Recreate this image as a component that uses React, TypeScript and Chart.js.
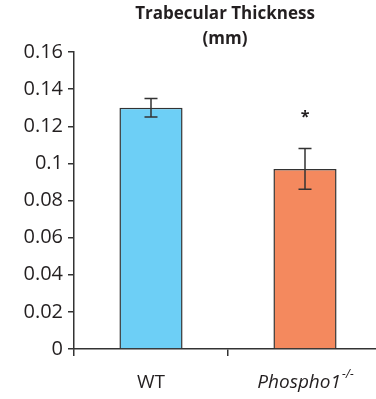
import React, { useEffect, useRef } from "react";
import { Chart, registerables } from "chart.js";

Chart.register(...registerables);

const categories = ["WT", "Phospho1"];
const superscripts = ["", "-/-"];
const italicLabels = [false, true];
const values = [0.13, 0.097];
const errors = [0.005, 0.011];
const significance = ["", "*"];
const barColors = ["#6dcff6", "#f4895e"];
const titleLines = ["Trabecular Thickness", "(mm)"];
const yMin = 0;
const yMax = 0.16;
const yStep = 0.02;

const FONT = "'Open Sans', 'DejaVu Sans', sans-serif";
const INK = "#231f20";

const overlayPlugin = {
  id: "overlay",
  afterDatasetsDraw(chart: any) {
    const { ctx, chartArea, scales } = chart;
    const xs = scales.x;
    const ys = scales.y;
    ctx.save();
    // error bars
    ctx.strokeStyle = "#333";
    ctx.lineWidth = 1.5;
    values.forEach((v, i) => {
      const x = xs.getPixelForValue(i);
      const yTop = ys.getPixelForValue(v + errors[i]);
      const yBot = ys.getPixelForValue(v - errors[i]);
      const cap = 6.5;
      ctx.beginPath();
      ctx.moveTo(x, yTop);
      ctx.lineTo(x, yBot);
      ctx.moveTo(x - cap, yTop);
      ctx.lineTo(x + cap, yTop);
      ctx.moveTo(x - cap, yBot);
      ctx.lineTo(x + cap, yBot);
      ctx.stroke();
      if (significance[i]) {
        ctx.fillStyle = INK;
        ctx.font = `bold 16px ${FONT}`;
        ctx.textAlign = "center";
        ctx.textBaseline = "alphabetic";
        ctx.fillText(significance[i], x, yTop - 27);
      }
    });
    // x labels
    const labelY = 383;
    categories.forEach((c, i) => {
      const x = xs.getPixelForValue(i);
      const mainFont = `${italicLabels[i] ? "italic " : ""}19px ${FONT}`;
      const supFont = `${italicLabels[i] ? "italic " : ""}12px ${FONT}`;
      ctx.font = mainFont;
      const w1 = ctx.measureText(c).width;
      ctx.font = supFont;
      const w2 = superscripts[i] ? ctx.measureText(superscripts[i]).width : 0;
      const start = x - (w1 + w2) / 2;
      ctx.fillStyle = INK;
      ctx.textAlign = "left";
      ctx.textBaseline = "middle";
      ctx.font = mainFont;
      ctx.fillText(c, start, labelY);
      if (superscripts[i]) {
        ctx.font = supFont;
        ctx.fillText(superscripts[i], start + w1 + 1, labelY - 8);
      }
    });
    // title
    const cx = (chartArea.left + chartArea.right) / 2 - 3;
    ctx.font = `bold 17px ${FONT}`;
    ctx.fillStyle = INK;
    ctx.textAlign = "center";
    ctx.textBaseline = "middle";
    titleLines.forEach((t, i) => {
      ctx.fillText(t, cx, 14 + i * 25);
    });
    ctx.restore();
  },
};

export default function App() {
  const ref = useRef<HTMLCanvasElement>(null);
  useEffect(() => {
    if (!ref.current) return;
    const chart = new Chart(ref.current, {
      type: "bar",
      data: {
        labels: categories,
        datasets: [
          {
            data: values,
            backgroundColor: barColors,
            borderColor: "#333",
            borderWidth: 1.5,
            barPercentage: 0.41,
            categoryPercentage: 1,
          },
        ],
      },
      options: {
        responsive: false,
        animation: false,
        layout: { padding: { top: 52, left: 0, right: 0, bottom: 0 } },
        plugins: {
          legend: { display: false },
          title: { display: false },
          tooltip: { enabled: false },
        },
        scales: {
          x: {
            offset: true,
            afterFit(scale: any) {
              scale.height = 50;
            },
            ticks: { display: false },
            grid: {
              offset: true,
              drawOnChartArea: false,
              drawTicks: true,
              tickLength: 7,
              lineWidth: 1.5,
              color: (c: any) => (c.index === undefined ? "transparent" : "#333"),
            },
            border: { display: true, color: "#333", width: 1.5 },
          },
          y: {
            min: yMin,
            max: yMax,
            afterFit(scale: any) {
              scale.width = 74;
            },
            ticks: {
              stepSize: yStep,
              color: INK,
              padding: 5,
              font: { family: FONT, size: 20 },
              callback: (v: any) => parseFloat(Number(v).toFixed(4)).toString(),
            },
            grid: {
              drawOnChartArea: false,
              drawTicks: true,
              tickLength: 6,
              lineWidth: 1.5,
              color: "#333",
            },
            border: { display: true, color: "#333", width: 1.5 },
          },
        },
      },
      plugins: [overlayPlugin],
    });
    return () => chart.destroy();
  }, []);
  return (
    <div
      style={{
        position: "absolute",
        left: 0,
        top: 0,
        width: 376,
        height: 399,
        overflow: "hidden",
        background: "#fff",
      }}
    >
      <canvas ref={ref} width={382} height={399} style={{ display: "block" }} />
    </div>
  );
}
